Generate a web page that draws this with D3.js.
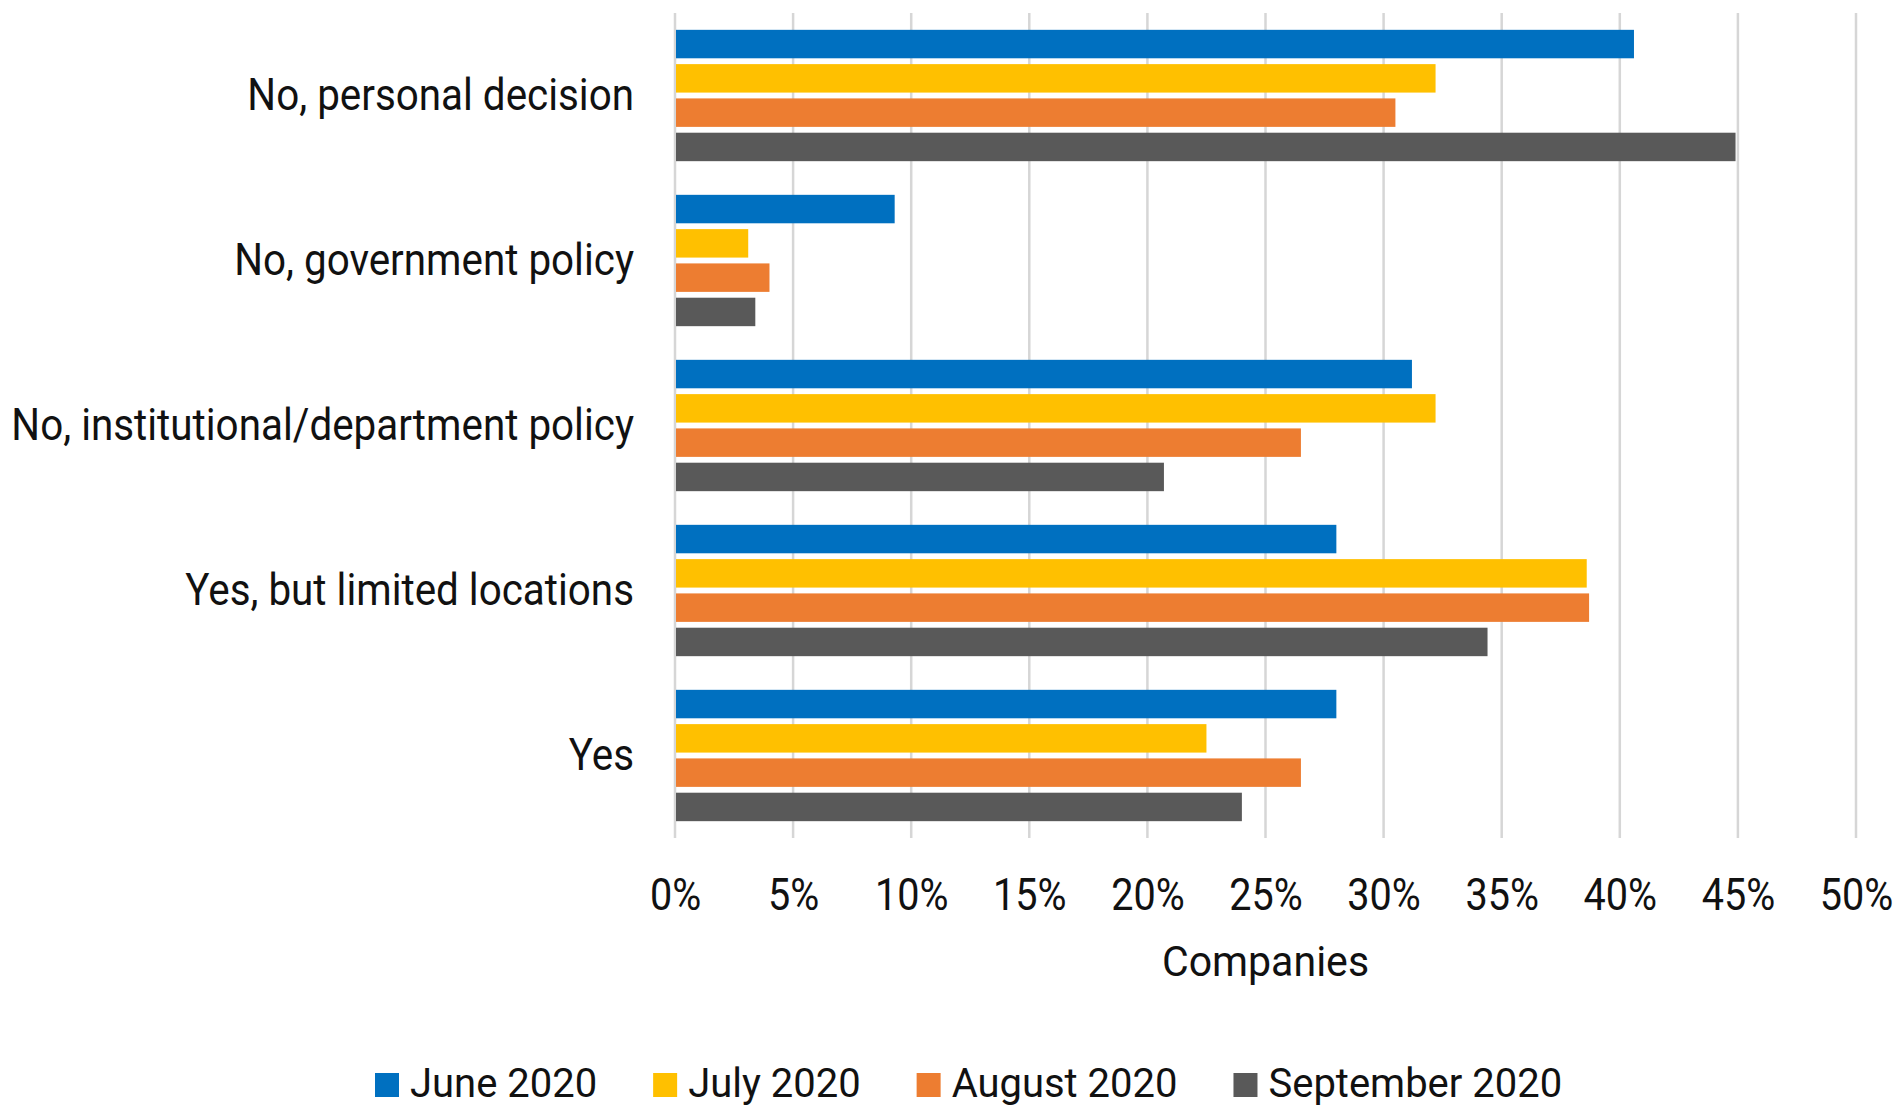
<!DOCTYPE html>
<html>
<head>
<meta charset="utf-8">
<script src="https://cdn.jsdelivr.net/npm/d3@7"></script>
<style>
  html, body { margin: 0; padding: 0; background: #ffffff; }
  svg { display: block; }
  text { font-family: Roboto, "Noto Sans", sans-serif; fill: #111111; }
</style>
</head>
<body>
<svg id="chart" width="1901" height="1108"></svg>
<script>
// Answer categories, top to bottom
const categories = [
  "No, personal decision",
  "No, government policy",
  "No, institutional/department policy",
  "Yes, but limited locations",
  "Yes"
];

// Survey months
const seriesNames = ["June 2020", "July 2020", "August 2020", "September 2020"];

// Share of companies (%) per category, one array per month
const june2020      = [40.6, 9.3, 31.2, 28.0, 28.0];
const july2020      = [32.2, 3.1, 32.2, 38.6, 22.5];
const august2020    = [30.5, 4.0, 26.5, 38.7, 26.5];
const september2020 = [44.9, 3.4, 20.7, 34.4, 24.0];

const seriesValues = [june2020, july2020, august2020, september2020];
const seriesColors = ["#0070C0", "#FFC000", "#ED7D31", "#595959"];

const xTicks = [0, 5, 10, 15, 20, 25, 30, 35, 40, 45, 50];
const xTitle = "Companies";

const svg = d3.select("#chart");

const plot = { left: 675, right: 1856, top: 13, bottom: 838 };

const x = d3.scaleLinear().domain([0, 50]).range([plot.left, plot.right]);

const y = d3.scaleBand()
  .domain(categories)
  .range([plot.top, plot.bottom])
  .paddingInner(0.204)
  .paddingOuter(0.102);

const ySub = d3.scaleBand()
  .domain(seriesNames)
  .range([0, y.bandwidth()])
  .paddingInner(0.17)
  .paddingOuter(0);

// Vertical gridlines
svg.append("g")
  .selectAll("line")
  .data(xTicks)
  .join("line")
  .attr("x1", d => x(d))
  .attr("x2", d => x(d))
  .attr("y1", plot.top)
  .attr("y2", plot.bottom)
  .attr("stroke", "#d6d6d6")
  .attr("stroke-width", 2.5);

// Bars
const rows = categories.map((c, i) => ({
  category: c,
  values: seriesNames.map((s, j) => ({ series: s, value: seriesValues[j][i], color: seriesColors[j] }))
}));

svg.append("g")
  .selectAll("g")
  .data(rows)
  .join("g")
  .attr("transform", d => `translate(0,${y(d.category)})`)
  .selectAll("rect")
  .data(d => d.values)
  .join("rect")
  .attr("x", x(0) + 1)
  .attr("y", d => ySub(d.series))
  .attr("width", d => x(d.value) - x(0) - 1)
  .attr("height", ySub.bandwidth())
  .attr("fill", d => d.color);

// Bottom axis with percentage labels
const xAxis = svg.append("g")
  .attr("transform", `translate(0,${plot.bottom})`)
  .call(d3.axisBottom(x).tickValues(xTicks).tickSize(0).tickFormat(d => d + "%"));
xAxis.select(".domain").remove();
xAxis.selectAll("text")
  .attr("dy", null)
  .attr("y", 72)
  .attr("font-size", 44)
  .attr("font-family", "Roboto, 'Noto Sans', sans-serif")
  .attr("fill", "#111111")
  .attr("transform", "scale(0.9,1)");

// Category axis on the left
const yAxis = svg.append("g")
  .attr("transform", `translate(${plot.left},0)`)
  .call(d3.axisLeft(y).tickSize(0));
yAxis.select(".domain").remove();
yAxis.selectAll("text")
  .attr("x", 0)
  .attr("dy", "0.33em")
  .attr("font-size", 44)
  .attr("font-family", "Roboto, 'Noto Sans', sans-serif")
  .attr("fill", "#111111")
  .attr("text-anchor", "end")
  .attr("transform", "translate(-41,0) scale(0.918,1)");

// Axis title
svg.append("g")
  .attr("transform", `translate(${(plot.left + plot.right) / 2},976) scale(0.955,1)`)
  .append("text")
  .attr("text-anchor", "middle")
  .attr("font-size", 43)
  .text(xTitle);

// Legend
const legend = svg.append("g").attr("transform", "translate(375,1097)");
let cursor = 0;
const legendScale = 0.975;
seriesNames.forEach((name, i) => {
  const item = legend.append("g").attr("transform", `translate(${cursor},0)`);
  item.append("rect")
    .attr("x", 0)
    .attr("y", -24)
    .attr("width", 24)
    .attr("height", 24)
    .attr("fill", seriesColors[i]);
  const t = item.append("g")
    .attr("transform", `translate(35,0) scale(${legendScale},1)`)
    .append("text")
    .attr("font-size", 41)
    .text(name);
  const w = t.node().getComputedTextLength() * legendScale;
  cursor += 35 + w + 56;
});
</script>
</body>
</html>
